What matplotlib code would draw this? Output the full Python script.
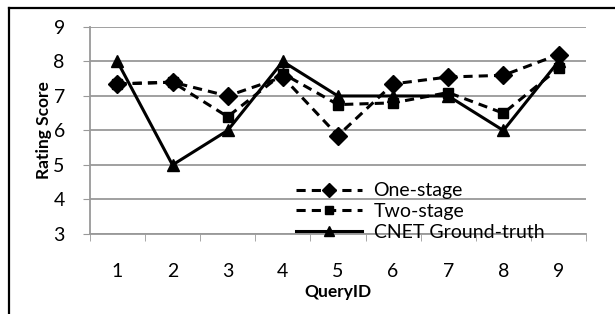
import matplotlib.pyplot as plt
from matplotlib.lines import Line2D

plt.rcParams['font.family'] = ['Lato', 'DejaVu Sans']

query_ids = [1, 2, 3, 4, 5, 6, 7, 8, 9]
one_stage = [7.35, 7.4, 7.0, 7.55, 5.85, 7.35, 7.55, 7.6, 8.2]
two_stage = [7.35, 7.4, 6.4, 7.65, 6.75, 6.8, 7.1, 6.5, 7.8]
cnet_truth = [8, 5, 6, 8, 7, 7, 7, 6, 8]

fig = plt.figure(figsize=(6.15, 3.14), dpi=100)
ax = fig.add_axes([0.146, 0.255, 0.807, 0.659])

ax.plot(query_ids, one_stage, color='black', lw=2.2, ls=(0, (3, 2)),
        marker='D', markersize=9, label='One-stage', zorder=3)
ax.plot(query_ids, two_stage, color='black', lw=2.2, ls=(0, (3, 2)),
        marker='s', markersize=7.5, label='Two-stage', zorder=3)
ax.plot(query_ids, cnet_truth, color='black', lw=2.2,
        marker='^', markersize=9, label='CNET Ground-truth', zorder=3)

ax.set_xlim(0.5, 9.5)
ax.set_ylim(3, 9)
ax.set_yticks(range(3, 10))
ax.set_xticks(query_ids)
ax.set_xticks([i + 0.5 for i in range(0, 10)], minor=True)
ax.grid(axis='y', color='#999999', lw=1.3)
ax.set_axisbelow(True)

for s in ['top', 'right']:
    ax.spines[s].set_visible(False)
for s in ['left', 'bottom']:
    ax.spines[s].set_color('#999999')
    ax.spines[s].set_linewidth(1.3)

ax.tick_params(axis='y', length=5, color='#999999', labelsize=14, pad=13)
ax.tick_params(axis='x', which='major', length=0, labelsize=14, pad=21)
ax.tick_params(axis='x', which='minor', length=5, color='#999999')

ax.set_xlabel('QueryID', fontsize=12.5, fontweight='bold', labelpad=3)
ax.set_ylabel('Rating Score', fontsize=12.5, fontweight='bold', labelpad=1)

ax.legend(loc='lower left', bbox_to_anchor=(0.415, -0.035), frameon=False,
          fontsize=14, handlelength=3.4, labelspacing=0.2, handletextpad=0.6,
          borderpad=0, borderaxespad=0, markerscale=0.75)

# outer frame (left and top edges visible)
fig.add_artist(Line2D([0.014, 0.014], [0, 0.975], color='black', lw=1.6,
                      transform=fig.transFigure))
fig.add_artist(Line2D([0.014, 1.0], [0.975, 0.975], color='black', lw=1.6,
                      transform=fig.transFigure))

fig.savefig('out.png', dpi=100)
